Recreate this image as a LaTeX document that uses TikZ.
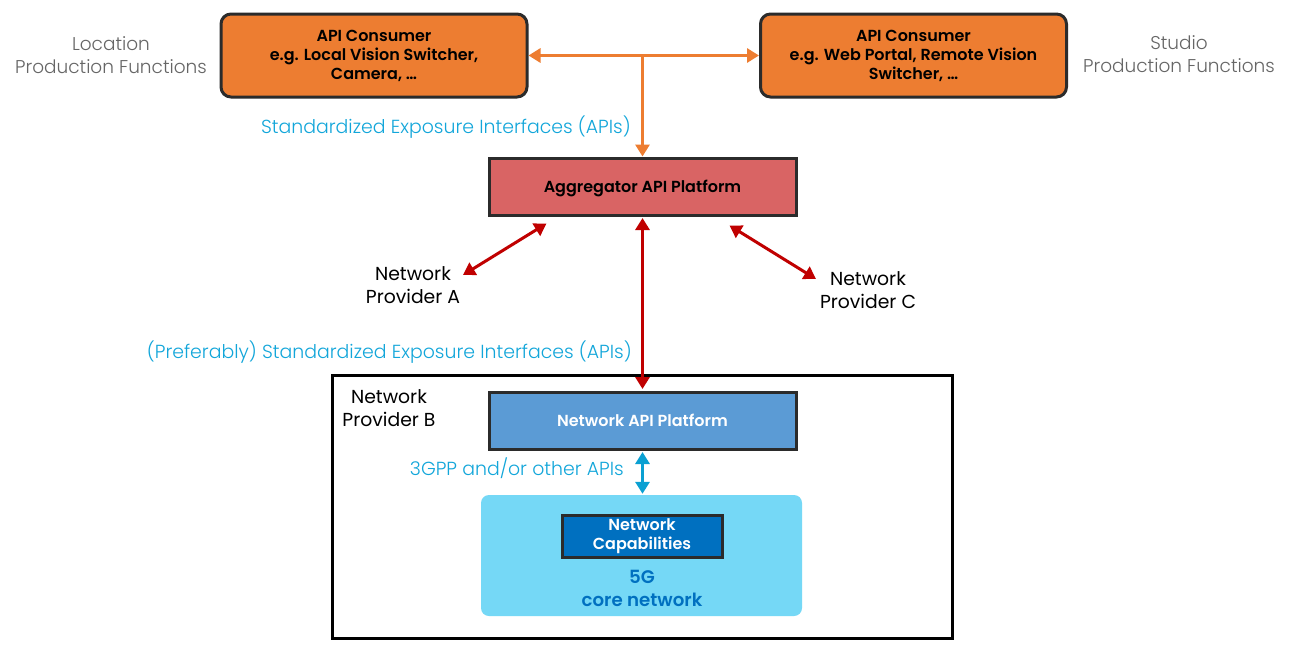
\documentclass[tikz,border=0pt]{standalone}
\usepackage{fontspec}
\setmainfont{Poppins}[BoldFont={Poppins SemiBold}]
\newfontfamily\poplight{Poppins Light}
\usetikzlibrary{arrows.meta,calc}
\definecolor{orangefill}{HTML}{ED7D31}
\definecolor{aggfill}{HTML}{D96464}
\definecolor{napfill}{HTML}{5B9BD5}
\definecolor{capfill}{HTML}{0070C0}
\definecolor{corefill}{HTML}{75D8F6}
\definecolor{boxline}{HTML}{2B2B2B}
\definecolor{darkred}{HTML}{C00000}
\definecolor{cyanline}{HTML}{0AA0D2}
\definecolor{cyantext}{HTML}{12A6DA}
\definecolor{graytext}{HTML}{666666}
\tikzset{
  >={Triangle[width=14pt,length=12pt]},
  boxtext/.style={font=\bfseries\fontsize{16}{19}\selectfont, align=center, inner sep=0pt},
  consumer/.style={boxtext, draw=boxline, line width=3pt, fill=orangefill, rounded corners=10pt,
    minimum width=306pt, minimum height=83pt},
  platform/.style={boxtext, draw=boxline, line width=3pt, minimum width=307pt, minimum height=57pt,
    text height=11.5pt, text depth=0pt},
  outerlabel/.style={font=\poplight\fontsize{18.5}{23}\selectfont, text=graytext, align=center, inner sep=0pt},
  provlabel/.style={font=\fontsize{18.8}{23}\selectfont, align=center, inner sep=0pt},
  apilabel/.style={font=\poplight\fontsize{18.9}{23}\selectfont, text=cyantext, inner sep=0pt},
  orangearrow/.style={draw=orangefill, line width=3.2pt},
  redarrow/.style={draw=darkred, line width=3pt},
  cyanarrow/.style={draw=cyanline, line width=3.5pt},
}
\begin{document}
\begin{tikzpicture}[x=1pt,y=-1pt]
\useasboundingbox[fill=white] (0,0) rectangle (1289,656);
% outer provider B box
\node[draw=black, line width=3pt, minimum width=620pt, minimum height=263pt, inner sep=0pt] (provb) at (642,506.5) {};
% top consumers
\node[consumer] (c1) at (374,55.5) {API Consumer\\e.g. Local Vision Switcher,\\Camera, \dots};
\node[consumer] (c2) at (913.5,55.5) {API Consumer\\e.g. Web Portal, Remote Vision\\Switcher, \dots};
\node[outerlabel] (loc) at (111,55.5) {Location\\Production Functions};
\node[outerlabel] (stu) at (1179,54.5) {Studio\\Production Functions};
% aggregator
\node[platform, fill=aggfill] (agg) at (642.5,186.5) {Aggregator API Platform};
\node[apilabel, anchor=east] (std1) at (631,127) {Standardized Exposure Interfaces (APIs)};
% providers
\node[provlabel] (pa) at (413,285.5) {Network\\Provider A};
\node[provlabel] (pc) at (868,290.5) {Network\\Provider C};
\node[apilabel, anchor=east] (std2) at (632,352) {(Preferably) Standardized Exposure Interfaces (APIs)};
\node[provlabel] (pbl) at (389,408.5) {Network\\Provider B};
% network API platform
\node[platform, fill=napfill, text=white] (nap) at (642.5,420.5) {Network API Platform};
\node[apilabel, anchor=east] (gpp) at (624,468) {3GPP and/or other APIs};
% core network
\node[fill=corefill, rounded corners=8pt, minimum width=321pt, minimum height=121pt, inner sep=0pt] (core) at (641.5,555.5) {};
\node[boxtext, draw=boxline, line width=3pt, fill=capfill, text=white, minimum width=160pt, minimum height=42pt] (cap) at (642,536) {Network\\Capabilities};
\node[boxtext, text=capfill, font=\bfseries\fontsize{18.2}{23}\selectfont] (fg) at (642,588.5) {5G\\core network};
% connectors
\coordinate (junc) at (agg.north |- c1.east);
\draw[orangearrow, ->] (junc) -- (c1.east);
\draw[orangearrow, ->] (junc) -- (c2.west);
\draw[orangearrow, ->] (junc) -- (agg.north);
\draw[redarrow, <->] ([yshift=-1.5pt]agg.south) -- ([yshift=1.5pt]nap.north);
\coordinate (aend) at ($(agg.south west)+(59,7)$);
\coordinate (cend) at ($(agg.south west)+(242,9)$);
\coordinate (pat) at (463,275);
\coordinate (pct) at (816,279);
\draw[redarrow, <->] (pat) -- (aend);
\draw[redarrow, <->] (pct) -- (cend);
\draw[cyanarrow, <->] ([yshift=-1.5pt]nap.south) -- ([yshift=1pt]core.north -| nap.south);
\end{tikzpicture}
\end{document}
